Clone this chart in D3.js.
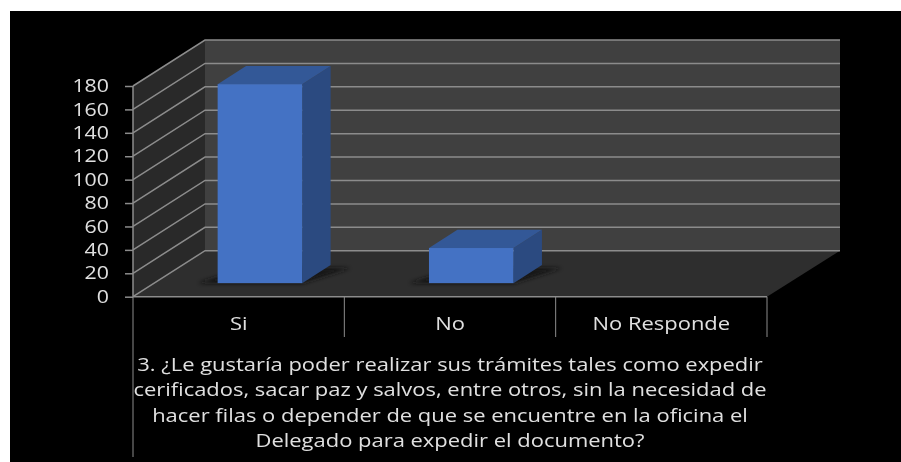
<!DOCTYPE html>
<html>
<head>
<meta charset="utf-8">
<script src="https://cdn.jsdelivr.net/npm/d3@7"></script>
<style>
html, body { margin: 0; padding: 0; background: #fff; }
svg { display: block; }
text { font-family: "Open Sans", sans-serif; fill: #e0e0e0; }
</style>
</head>
<body>
<div id="chart"></div>
<script>
const categories = ["Si", "No", "No Responde"];
const values = [170, 30, 0];
const yTicks = [0, 20, 40, 60, 80, 100, 120, 140, 160, 180];
const titleLines = [
    "3. ¿Le gustaría poder realizar sus trámites tales como expedir",
    "cerificados, sacar paz y salvos, entre otros, sin la necesidad de",
    "hacer filas o depender de que se encuentre en la oficina el",
    "Delegado para expedir el documento?"
];

const width = 901, height = 462;
const plot = { left: 133, right: 767, bottom: 296.7, top: 86 };
const depth = { x: 72, y: 46 };       // offset from the front of the floor to the back wall
const barDepth = { front: 0.295, back: 0.69 };  // where the bars sit along that depth
const textStretch = 1.22;             // the source picture is stretched sideways

let svg = d3.select("#chart").append("svg")
    .attr("width", width)
    .attr("height", height);

// black picture area
svg.append("rect")
    .attr("x", 10).attr("y", 11)
    .attr("width", width - 10).attr("height", height - 11)
    .attr("fill", "#000");

let x = d3.scaleBand()
    .domain(categories)
    .range([plot.left, plot.right])
    .paddingInner(0.6)
    .paddingOuter(0.3);

let band = d3.scaleBand()
    .domain(categories)
    .range([plot.left, plot.right]);

let y = d3.scaleLinear()
    .domain([0, 180])
    .range([plot.bottom, plot.top]);

let points = p => p.map(d => d.join(",")).join(" ");
let gridColor = "#8c8c8c";

// back wall
svg.append("polygon")
    .attr("points", points([
        [plot.left + depth.x, y(180) - depth.y],
        [plot.right + depth.x + 1, y(180) - depth.y],
        [plot.right + depth.x + 1, y(0) - depth.y],
        [plot.left + depth.x, y(0) - depth.y]
    ]))
    .attr("fill", "#404040");

// side wall
svg.append("polygon")
    .attr("points", points([
        [plot.left, y(180)],
        [plot.left + depth.x, y(180) - depth.y],
        [plot.left + depth.x, y(0) - depth.y],
        [plot.left, y(0)]
    ]))
    .attr("fill", "#292929");

// floor
svg.append("polygon")
    .attr("points", points([
        [plot.left, y(0)],
        [plot.left + depth.x, y(0) - depth.y],
        [plot.right + depth.x + 1, y(0) - depth.y],
        [plot.right, y(0)]
    ]))
    .attr("fill", "#2e2e2e");

// gridlines on side and back walls
svg.selectAll(".grid")
    .data(yTicks)
    .enter()
    .append("polyline")
    .attr("class", "grid")
    .attr("points", d => points([
        [plot.left, y(d)],
        [plot.left + depth.x, y(d) - depth.y],
        [plot.right + depth.x + 1, y(d) - depth.y]
    ]))
    .attr("fill", "none")
    .attr("stroke", gridColor)
    .attr("stroke-width", 1.5);

// blur for the shadows and for the soft look of the text
let defs = svg.append("defs");
defs.append("filter").attr("id", "soft")
    .attr("x", "-30%").attr("y", "-30%").attr("width", "160%").attr("height", "160%")
    .append("feGaussianBlur").attr("stdDeviation", 2);
defs.append("filter").attr("id", "textBlur")
    .append("feGaussianBlur").attr("stdDeviation", 0.35);

let bars = categories.map((c, i) => ({ name: c, value: values[i] })).filter(d => d.value > 0);

let fx = depth.x * barDepth.front, fy = depth.y * barDepth.front;
let bx = depth.x * barDepth.back, by = depth.y * barDepth.back;

svg.selectAll(".shadow")
    .data(bars)
    .enter()
    .append("polygon")
    .attr("class", "shadow")
    .attr("points", d => {
        let x0 = x(d.name), x1 = x0 + x.bandwidth();
        return points([
            [x0 + fx - 20, y(0) - fy],
            [x1 + fx, y(0) - fy],
            [x1 + bx + 20, y(0) - by + 3],
            [x0 + bx, y(0) - by + 3]
        ]);
    })
    .attr("fill", "#141414")
    .attr("filter", "url(#soft)");

// bars: side, top, front
let barG = svg.selectAll(".bar")
    .data(bars)
    .enter()
    .append("g")
    .attr("class", "bar");

barG.append("polygon")
    .attr("points", d => {
        let x1 = x(d.name) + x.bandwidth();
        return points([
            [x1 + fx, y(d.value) - fy],
            [x1 + bx, y(d.value) - by],
            [x1 + bx, y(0) - by],
            [x1 + fx, y(0) - fy]
        ]);
    })
    .attr("fill", "#2b4a80");

barG.append("polygon")
    .attr("points", d => {
        let x0 = x(d.name), x1 = x0 + x.bandwidth();
        return points([
            [x0 + fx, y(d.value) - fy],
            [x0 + bx, y(d.value) - by],
            [x1 + bx, y(d.value) - by],
            [x1 + fx, y(d.value) - fy]
        ]);
    })
    .attr("fill", "#335897");

barG.append("rect")
    .attr("x", d => x(d.name) + fx)
    .attr("y", d => y(d.value) - fy)
    .attr("width", x.bandwidth())
    .attr("height", d => y(0) - y(d.value))
    .attr("fill", "#4472c4");

// y axis line and ticks
let yAxis = d3.axisLeft(y)
    .tickValues(yTicks)
    .tickSize(8)
    .tickPadding(16);

let yG = svg.append("g")
    .attr("transform", "translate(" + plot.left + ",0)")
    .call(yAxis);
yG.selectAll("path, line").attr("stroke", gridColor).attr("stroke-width", 1.5);
yG.select(".domain").attr("d", "M0," + y(180) + "V" + y(0));
yG.selectAll("text")
    .attr("x", -24 / textStretch)
    .attr("transform", "scale(" + textStretch + ",1)")
    .attr("font-size", 17.5)
    .attr("filter", "url(#textBlur)")
    .style("font-family", "\"Open Sans\", sans-serif")
    .style("fill", "#e0e0e0");

// category table below the floor
let tableColor = "#8c8c8c";
svg.append("line")
    .attr("x1", plot.left).attr("x2", plot.right)
    .attr("y1", y(0)).attr("y2", y(0))
    .attr("stroke", tableColor).attr("stroke-width", 1.5);

svg.selectAll(".divider")
    .data(categories.slice(1))
    .enter()
    .append("line")
    .attr("class", "divider")
    .attr("x1", d => band(d)).attr("x2", d => band(d))
    .attr("y1", y(0)).attr("y2", 337)
    .attr("stroke", tableColor);

svg.selectAll(".edge")
    .data([plot.left, plot.right])
    .enter()
    .append("line")
    .attr("class", "edge")
    .attr("x1", d => d).attr("x2", d => d)
    .attr("y1", y(0)).attr("y2", d => d == plot.left ? 457 : 337)
    .attr("stroke", tableColor);

// stretched, centred text at a given position
function stretchedText(sel, cx, baseline, size) {
    sel.attr("transform", (d, i) => "translate(" + cx(d, i) + "," + baseline(d, i) + ") scale(" + textStretch + ",1)")
        .attr("text-anchor", "middle")
        .attr("font-size", size)
        .attr("filter", "url(#textBlur)")
        .text(d => d);
}

svg.selectAll(".cat")
    .data(categories)
    .enter()
    .append("text")
    .attr("class", "cat")
    .call(stretchedText, d => band(d) + band.bandwidth() / 2, () => 330, 18);

svg.selectAll(".title")
    .data(titleLines)
    .enter()
    .append("text")
    .attr("class", "title")
    .call(stretchedText, () => (plot.left + plot.right) / 2, (d, i) => 370.7 + i * 25.5, 18);
</script>
</body>
</html>
